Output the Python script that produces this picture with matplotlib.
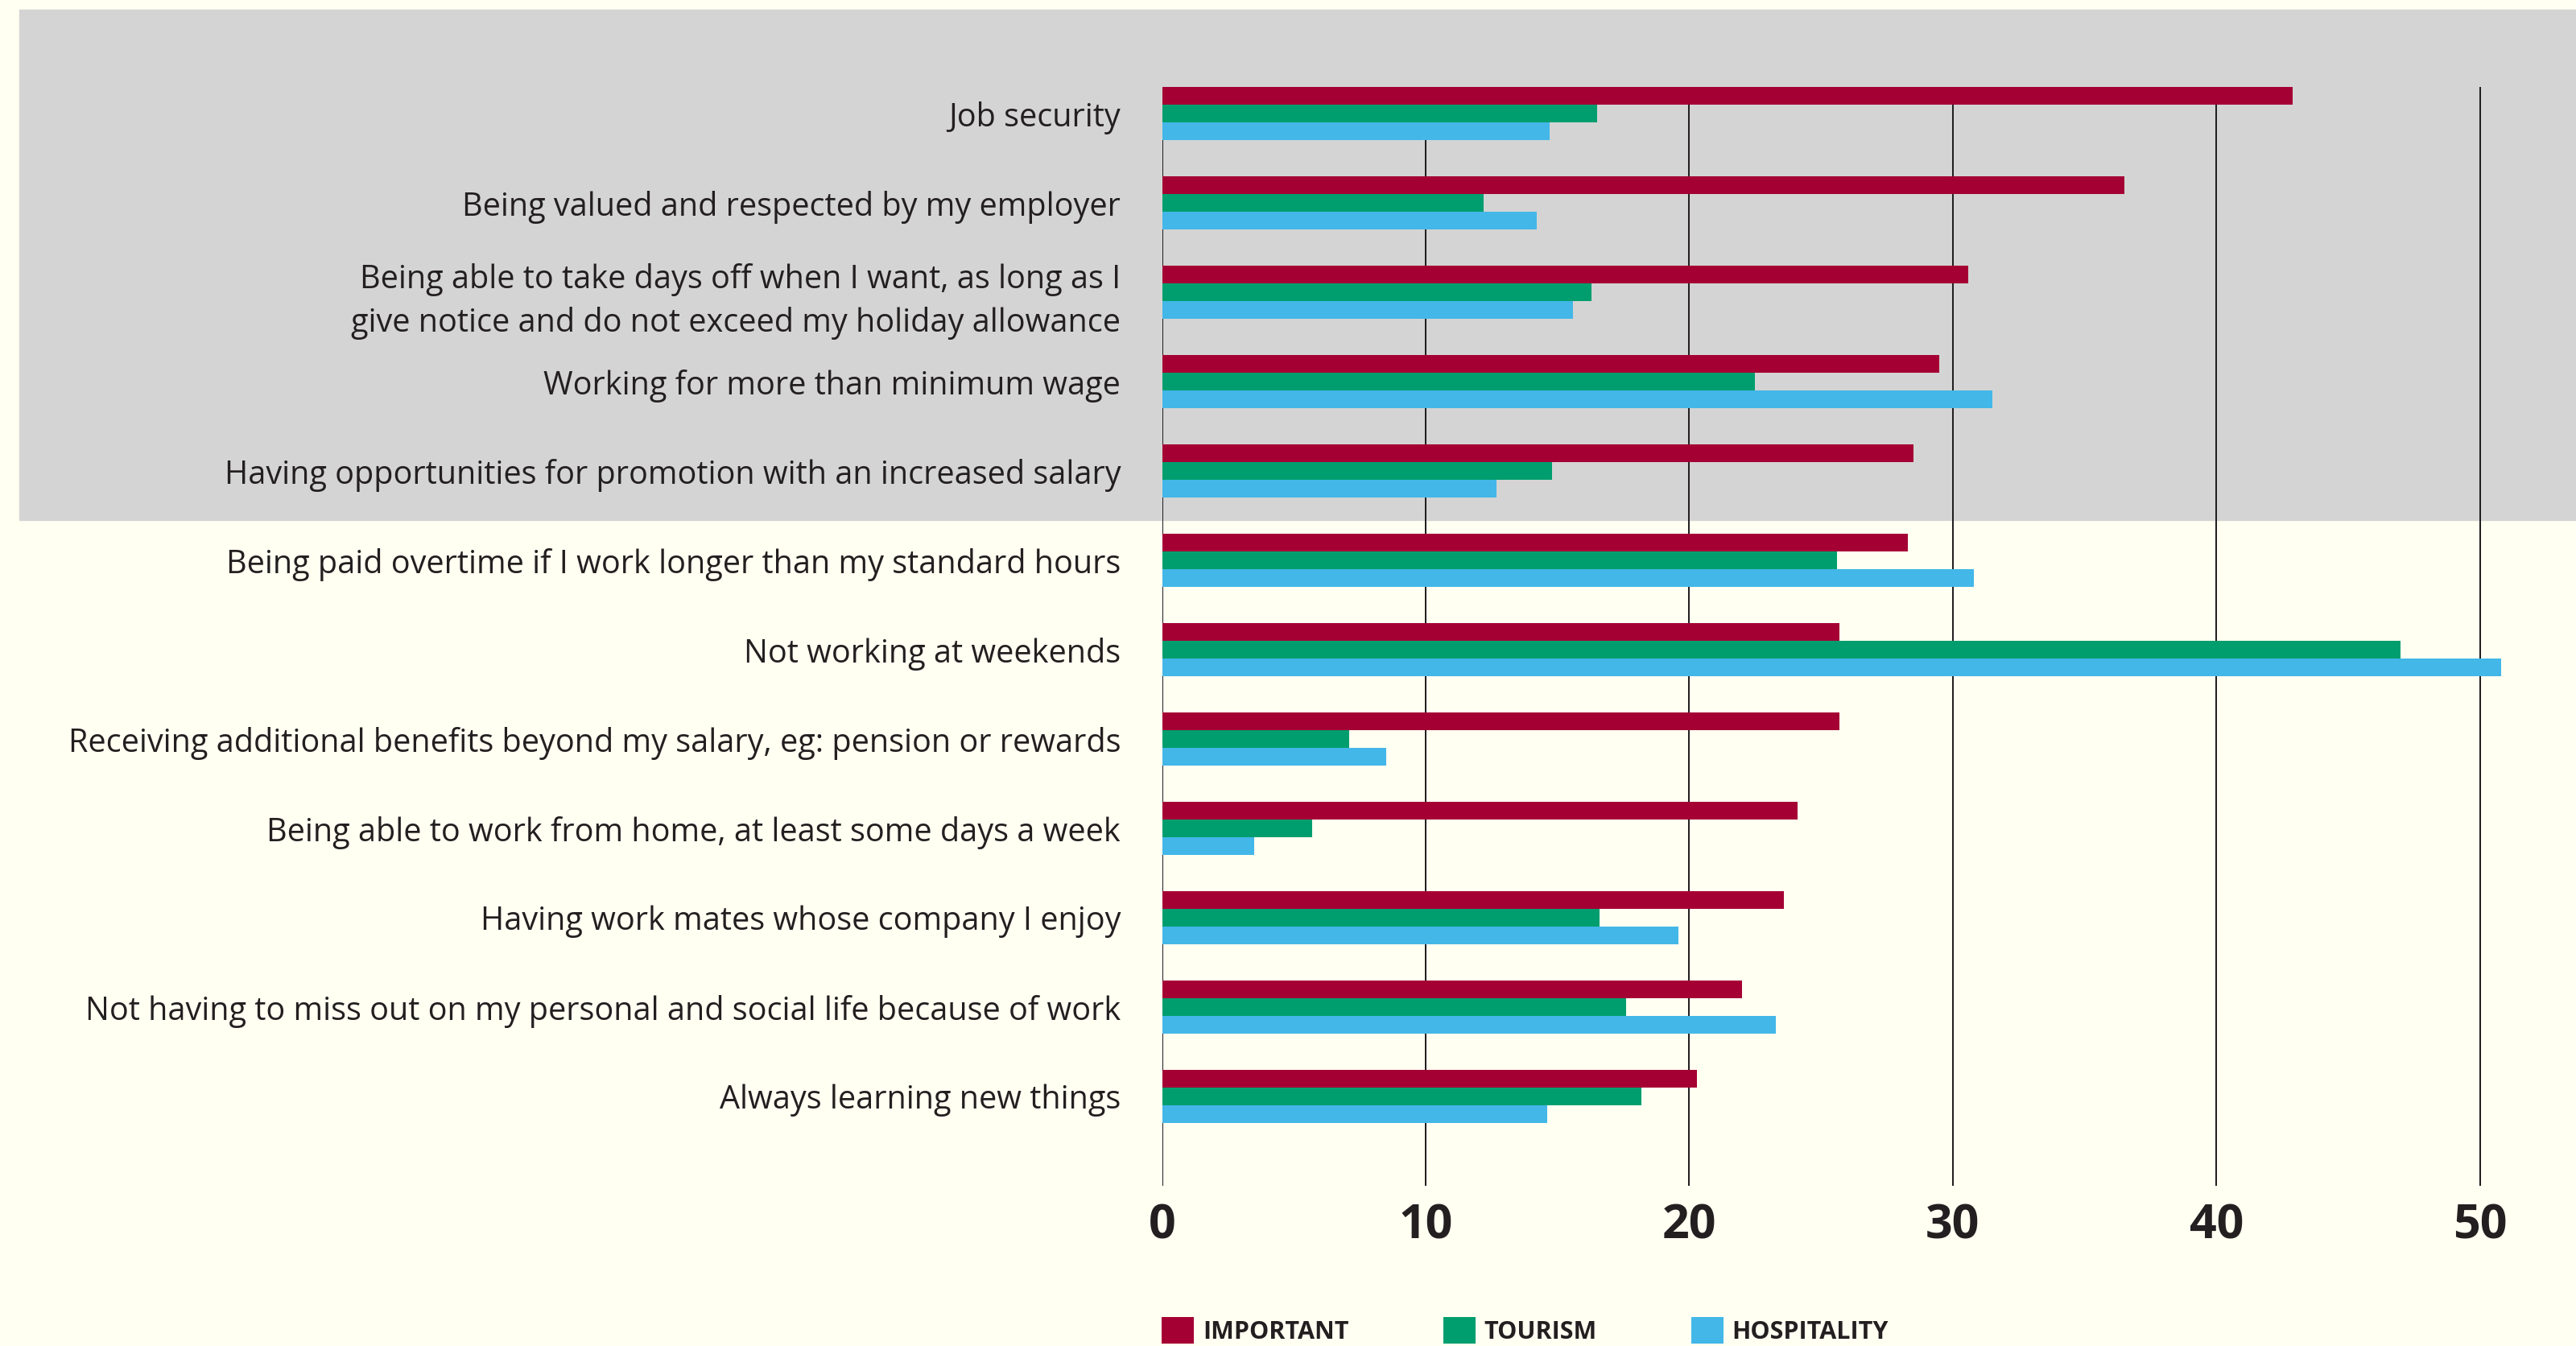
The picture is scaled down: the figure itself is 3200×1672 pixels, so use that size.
import matplotlib.pyplot as plt
import numpy as np

# --- data ---
categories = [
    'Job security',
    'Being valued and respected by my employer',
    'Being able to take days off when I want, as long as I\n'
    'give notice and do not exceed my holiday allowance',
    'Working for more than minimum wage',
    'Having opportunities for promotion with an increased salary',
    'Being paid overtime if I work longer than my standard hours',
    'Not working at weekends',
    'Receiving additional benefits beyond my salary, eg: pension or rewards',
    'Being able to work from home, at least some days a week',
    'Having work mates whose company I enjoy',
    'Not having to miss out on my personal and social life because of work',
    'Always learning new things',
]
important = [42.9, 36.5, 30.6, 29.5, 28.5, 28.3, 25.7, 25.7, 24.1, 23.6, 22.0, 20.3]
tourism = [16.5, 12.2, 16.3, 22.5, 14.8, 25.6, 47.0, 7.1, 5.7, 16.6, 17.6, 18.2]
hospitality = [14.7, 14.2, 15.6, 31.5, 12.7, 30.8, 50.8, 8.5, 3.5, 19.6, 23.3, 14.6]
series_names = ['IMPORTANT', 'TOURISM', 'HOSPITALITY']
xticks = [0, 10, 20, 30, 40, 50]

# --- style ---
colors = ['#A50034', '#009E6E', '#43B7E8']
bg = '#FFFFF2'
band = '#D4D4D4'
ink = '#231F20'
plt.rcParams['font.family'] = ['Open Sans', 'DejaVu Sans']

W, H = 3200, 1672
fig = plt.figure(figsize=(W / 100, H / 100), dpi=100, facecolor=bg)

# grey band behind the top five items
fig.patches.append(plt.Rectangle((24 / W, 1 - 646 / H), 1 - 24 / W, (646 - 12) / H,
                                 transform=fig.transFigure, color=band, zorder=-1))

x0 = 1443.6          # pixel of value 0
px_per_unit = 32.74
ax = fig.add_axes([x0 / W, 1 - 1473 / H, 1 - x0 / W, (1473 - 107.9) / H])
ax.set_facecolor('none')

y = np.arange(len(categories))
h = 0.2
for k, (vals, c, name) in enumerate(zip([important, tourism, hospitality], colors, series_names)):
    ax.barh(y + (k - 1) * h, vals, height=h, color=c, label=name, zorder=3)

ax.set_xlim(0, (W - x0) / px_per_unit)
ax.set_ylim(len(categories), -0.3)

ax.set_xticks(xticks)
ax.set_xticklabels([str(t) for t in xticks], fontweight='bold')
ax.grid(axis='x', color=ink, lw=1.45)
ax.set_axisbelow(True)
ax.tick_params(axis='x', length=0, pad=15, labelsize=42.5, labelcolor=ink)

ax.set_yticks(y)
ax.set_yticklabels(categories, fontsize=28.5, color=ink, linespacing=1.43)
ax.tick_params(axis='y', length=0, pad=37)
for s in ax.spines.values():
    s.set_visible(False)

fs = 22 * 100 / 72
fig.legend(loc='upper left', bbox_to_anchor=(1443 / W, 1 - 1636 / H), ncol=3,
           frameon=False, prop={'family': 'Open Sans', 'weight': 'bold', 'size': 22},
           handlelength=40 / fs, handleheight=40 / fs, handletextpad=11 / fs,
           columnspacing=117 / fs, borderpad=0, borderaxespad=0, labelcolor=ink)

fig.savefig('out.png', dpi=100, facecolor=bg)
